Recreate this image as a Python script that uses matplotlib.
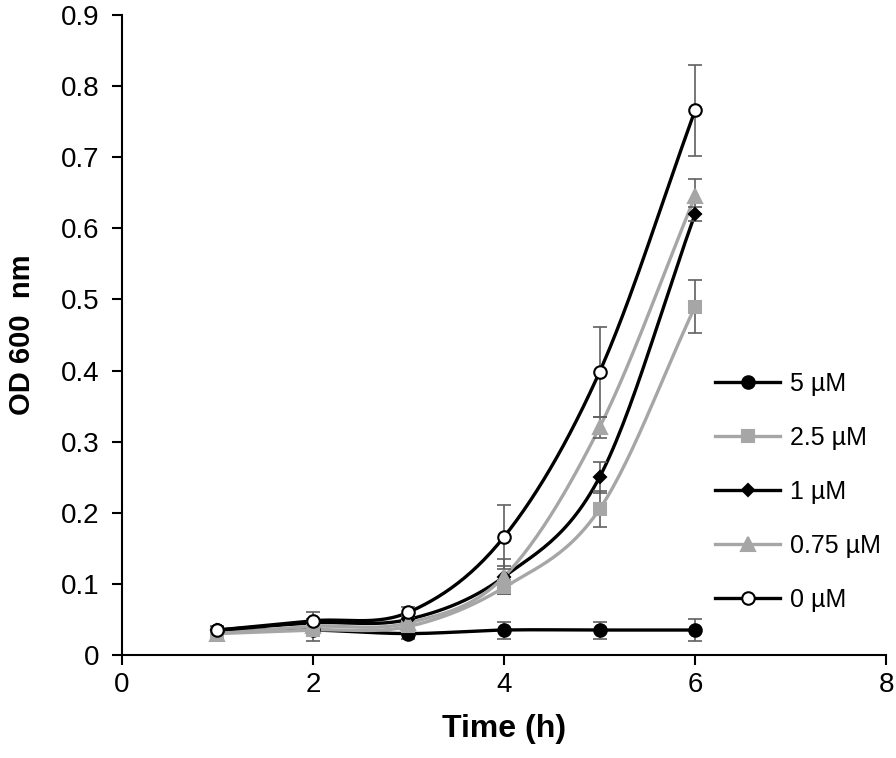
import numpy as np
import matplotlib.pyplot as plt
from matplotlib.lines import Line2D

plt.rcParams['font.family'] = ['Liberation Sans', 'DejaVu Sans']

time_h = [1, 2, 3, 4, 5, 6]
labels = ['5 µM', '2.5 µM', '1 µM', '0.75 µM', '0 µM']
od = {
    '5 µM':    [0.035, 0.035, 0.030, 0.035, 0.035, 0.035],
    '2.5 µM':  [0.030, 0.035, 0.040, 0.095, 0.205, 0.490],
    '1 µM':    [0.035, 0.045, 0.050, 0.110, 0.250, 0.620],
    '0.75 µM': [0.030, 0.040, 0.045, 0.110, 0.320, 0.645],
    '0 µM':    [0.035, 0.048, 0.060, 0.166, 0.398, 0.766],
}
err = {
    '5 µM':    [0.006, 0.008, 0.008, 0.012, 0.012, 0.015],
    '2.5 µM':  [0.005, 0.015, 0.006, 0.010, 0.025, 0.037],
    '1 µM':    [0.004, 0.006, 0.006, 0.015, 0.022, 0.010],
    '0.75 µM': [0.004, 0.006, 0.006, 0.025, 0.015, 0.025],
    '0 µM':    [0.004, 0.012, 0.008, 0.045, 0.063, 0.064],
}
style = {
    '5 µM':    dict(color='black', marker='o', mfc='black', ms=9),
    '2.5 µM':  dict(color='#a6a6a6', marker='s', mfc='#a6a6a6', ms=8.5),
    '1 µM':    dict(color='black', marker='D', mfc='black', ms=6.5),
    '0.75 µM': dict(color='#a6a6a6', marker='^', mfc='#a6a6a6', ms=9.5),
    '0 µM':    dict(color='black', marker='o', mfc='white', ms=9),
}


def smooth(x, y, n=30):
    # catmull-rom curve through the points, like Excel's smoothed line
    x = np.asarray(x, float)
    y = np.asarray(y, float)
    px = np.concatenate([[2 * x[0] - x[1]], x, [2 * x[-1] - x[-2]]])
    py = np.concatenate([[2 * y[0] - y[1]], y, [2 * y[-1] - y[-2]]])
    xs, ys = [], []
    t = np.linspace(0, 1, n)
    for i in range(1, len(px) - 2):
        for p, out in ((px, xs), (py, ys)):
            p0, p1, p2, p3 = p[i - 1], p[i], p[i + 1], p[i + 2]
            out.extend(0.5 * (2 * p1 + (-p0 + p2) * t
                              + (2 * p0 - 5 * p1 + 4 * p2 - p3) * t ** 2
                              + (-p0 + 3 * p1 - 3 * p2 + p3) * t ** 3))
    return xs, ys


fig = plt.figure(figsize=(8.96, 7.58), dpi=100)
ax = fig.add_axes([0.136, 0.136, 0.853, 0.844])

handles = []
for lab in labels:
    s = style[lab]
    xs, ys = smooth(time_h, od[lab])
    ax.plot(xs, ys, color=s['color'], lw=2.4, zorder=2)
    ax.errorbar(time_h, od[lab], yerr=err[lab], fmt='none', ecolor='#606060',
                elinewidth=1.2, capsize=5, capthick=1.2, zorder=3)
    ax.plot(time_h, od[lab], ls='none', marker=s['marker'], ms=s['ms'],
            mfc=s['mfc'], mec=s['color'], mew=1.5, zorder=4)
    handles.append(Line2D([], [], color=s['color'], lw=2.4, marker=s['marker'],
                          ms=s['ms'], mfc=s['mfc'], mec=s['color'], mew=1.5))

ax.set_xlim(0, 8)
ax.set_ylim(0, 0.9)
ax.set_xticks([0, 2, 4, 6, 8])
ax.set_yticks(np.arange(0, 0.91, 0.1))
ax.set_yticklabels(['0'] + ['%.1f' % v for v in np.arange(0.1, 0.91, 0.1)])
ax.spines['top'].set_visible(False)
ax.spines['right'].set_visible(False)
for sp in ('left', 'bottom'):
    ax.spines[sp].set_linewidth(1.5)
ax.tick_params(labelsize=20, width=1.5, length=7, colors='black')
ax.tick_params(axis='x', pad=5)
ax.tick_params(axis='y', pad=9)
ax.set_xlabel('Time (h)', fontsize=23, fontweight='bold', labelpad=12)
ax.set_ylabel('OD 600  nm', fontsize=21, fontweight='bold')
ax.yaxis.set_label_coords(-0.112, 0.5)

ax.legend(handles, labels, loc='center left', bbox_to_anchor=(0.747, 0.255),
          frameon=False, fontsize=18, handlelength=2.6, handletextpad=0.4,
          labelspacing=1.2)

fig.savefig('out.png', dpi=100)
